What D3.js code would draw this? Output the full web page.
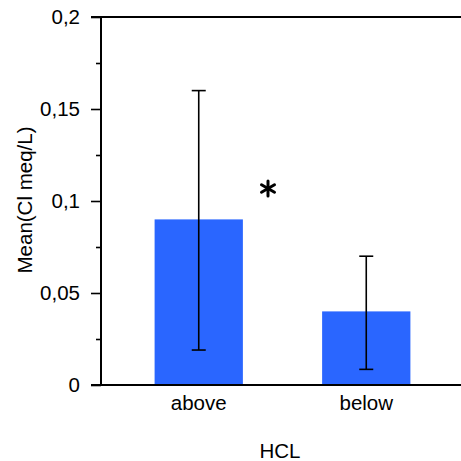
<!DOCTYPE html>
<html><head><meta charset="utf-8">
<script src="https://cdn.jsdelivr.net/npm/d3@7"></script>
<style>body{margin:0;background:#fff}svg{display:block}text{font-family:"Liberation Sans",Arial,sans-serif;fill:#000}</style>
</head><body>
<svg id="c" width="461" height="461"></svg>
<script>
const categories = ["above", "below"];
const means = [0.09, 0.04];
const errLow = [0.019, 0.0085];
const errHigh = [0.16, 0.07];
const yTicks = [0, 0.05, 0.1, 0.15, 0.2];
const yTickLabels = ["0", "0,05", "0,1", "0,15", "0,2"];
const minorTicks = [0.025, 0.075, 0.125, 0.175];
const FS = "20.5px";

const svg = d3.select("#c");
const x = d3.scaleBand().domain(categories).range([102, 463]).paddingInner(0.473).paddingOuter(0.314);
const y = d3.scaleLinear().domain([0, 0.2]).range([385, 17]);
const color = "#2a66ff";

// bars
svg.selectAll("rect.bar").data(categories).join("rect")
  .attr("x", d => x(d)).attr("width", x.bandwidth())
  .attr("y", (d,i) => y(means[i])).attr("height", (d,i) => y(0) - y(means[i]))
  .attr("fill", color);

// error bars
const g = svg.append("g").attr("stroke", "#000").attr("stroke-width", 1.6);
categories.forEach((c, i) => {
  const cx = x(c) + x.bandwidth()/2;
  g.append("line").attr("x1", cx).attr("x2", cx).attr("y1", y(errLow[i])).attr("y2", y(errHigh[i]));
  g.append("line").attr("x1", cx-7).attr("x2", cx+7).attr("y1", y(errLow[i])).attr("y2", y(errLow[i]));
  g.append("line").attr("x1", cx-7).attr("x2", cx+7).attr("y1", y(errHigh[i])).attr("y2", y(errHigh[i]));
});

// y axis
const yAxis = d3.axisLeft(y).tickValues(yTicks).tickFormat((d,i) => yTickLabels[i]).tickSize(10).tickPadding(11);
const ya = svg.append("g").attr("transform", "translate(101,0)").call(yAxis);
ya.select(".domain").remove();
ya.selectAll("line").attr("stroke", "#000").attr("stroke-width", 1.6);
ya.selectAll("text").style("font-size", FS).style("font-family", '"Liberation Sans",Arial,sans-serif');
const yMinor = d3.axisLeft(y).tickValues(minorTicks).tickFormat("").tickSize(5);
const ym = svg.append("g").attr("transform", "translate(101,0)").call(yMinor);
ym.select(".domain").remove();
ym.selectAll("line").attr("stroke", "#000").attr("stroke-width", 1.6);

// axis lines
svg.append("line").attr("x1", 101).attr("x2", 101).attr("y1", y(0.2)).attr("y2", y(0)).attr("stroke", "#000").attr("stroke-width", 2);
svg.append("line").attr("x1", 91).attr("x2", 461).attr("y1", y(0)).attr("y2", y(0)).attr("stroke", "#000").attr("stroke-width", 2);
svg.append("line").attr("x1", 91).attr("x2", 461).attr("y1", y(0.2)).attr("y2", y(0.2)).attr("stroke", "#000").attr("stroke-width", 2);

// x labels
const xAxis = d3.axisBottom(x).tickSize(0).tickPadding(10);
const xa = svg.append("g").attr("transform", `translate(0,${y(0)})`).call(xAxis);
xa.select(".domain").remove();
xa.selectAll("text").style("font-size", FS).style("font-family", '"Liberation Sans",Arial,sans-serif');

// titles
svg.append("text").attr("x", 280).attr("y", 458).attr("text-anchor", "middle").style("font-size", FS).text("HCL");
svg.append("text").attr("transform", "translate(32,200) rotate(-90)").attr("text-anchor", "middle").style("font-size", FS).text("Mean(Cl meq/L)");

// significance asterisk
const star = svg.append("g").attr("transform", "translate(268,188.5)").attr("stroke", "#000").attr("stroke-width", 3).attr("stroke-linecap", "round");
[90, 30, 150].forEach(a => {
  const r = 7.5, rad = a * Math.PI / 180;
  star.append("line").attr("x1", -r*Math.cos(rad)).attr("y1", -r*Math.sin(rad)).attr("x2", r*Math.cos(rad)).attr("y2", r*Math.sin(rad));
});
</script>
</body></html>
